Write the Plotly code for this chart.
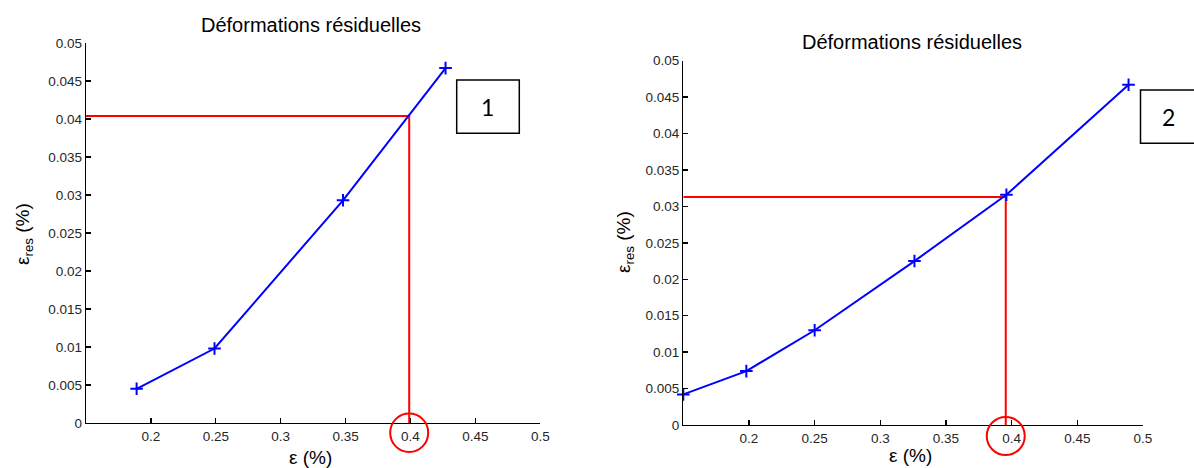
import plotly.graph_objects as go

W, H = 1194, 468

# ---- data ----
title_text = "Déformations résiduelles"
x_label = "ε (%)"
y_label = "ε<sub>res</sub> (%)"

x_ticks = [0.2, 0.25, 0.3, 0.35, 0.4, 0.45, 0.5]
x_ticktext = ["0.2", "0.25", "0.3", "0.35", "0.4", "0.45", "0.5"]
y_ticks = [0, 0.005, 0.01, 0.015, 0.02, 0.025, 0.03, 0.035, 0.04, 0.045, 0.05]
y_ticktext = ["0", "0.005", "0.01", "0.015", "0.02", "0.025", "0.03", "0.035", "0.04", "0.045", "0.05"]

# chart 1
eps1 = [0.189, 0.249, 0.348, 0.427]
res1 = [0.0045, 0.0098, 0.0293, 0.0467]
ref1_x = 0.399
ref1_y = 0.0404
label1 = "1"

# chart 2
eps2 = [0.150, 0.198, 0.250, 0.326, 0.396, 0.489]
res2 = [0.0042, 0.0074, 0.0130, 0.0225, 0.0316, 0.0467]
ref2_x = 0.3955
ref2_y = 0.0313
label2 = "2"

x_range = [0.15, 0.5]
y_range = [0, 0.05]

# ---- layout helpers (pixel -> paper) ----
def px(x):
    return x / W

def py(y):
    return 1 - y / H

fig = go.Figure()

blue = "#0000FF"
red = "#FF0000"

for (eps, res, rx, ry, xa, ya) in [
    (eps1, res1, ref1_x, ref1_y, "x", "y"),
    (eps2, res2, ref2_x, ref2_y, "x2", "y2"),
]:
    # red reference lines
    fig.add_trace(go.Scatter(x=[x_range[0], rx, rx], y=[ry, ry, y_range[0]],
                             mode="lines", line=dict(color=red, width=2),
                             xaxis=xa, yaxis=ya, showlegend=False, cliponaxis=False))
    fig.add_trace(go.Scatter(x=eps, y=res, mode="lines+markers",
                             line=dict(color=blue, width=2),
                             marker=dict(symbol="cross-thin", size=9,
                                         line=dict(color=blue, width=2), color=blue),
                             xaxis=xa, yaxis=ya, showlegend=False, cliponaxis=False))

tick_font = dict(family="Arial, Liberation Sans, sans-serif", size=13.5, color="#262626")

def xaxis_cfg(domain, anchor):
    return dict(domain=domain, anchor=anchor, range=x_range, tickvals=x_ticks, ticktext=x_ticktext,
                showline=True, linecolor="black", linewidth=1.3, ticks="inside", ticklen=5,
                tickcolor="black", tickwidth=1.3, showgrid=False, zeroline=False,
                tickfont=tick_font, fixedrange=True, automargin=False)

def yaxis_cfg(domain, anchor):
    return dict(domain=domain, anchor=anchor, range=y_range, tickvals=y_ticks, ticktext=y_ticktext,
                showline=True, linecolor="black", linewidth=1.3, ticks="inside", ticklen=5,
                tickcolor="black", tickwidth=1.3, showgrid=False, zeroline=False,
                tickfont=tick_font, fixedrange=True, automargin=False)

fig.update_layout(
    width=W, height=H, autosize=False,
    margin=dict(l=0, r=0, t=0, b=0, autoexpand=False),
    paper_bgcolor="white", plot_bgcolor="white",
    xaxis=xaxis_cfg([px(86), px(540.3)], "y"),
    yaxis=yaxis_cfg([py(423), py(43)], "x"),
    xaxis2=xaxis_cfg([px(683.3), px(1143)], "y2"),
    yaxis2=yaxis_cfg([py(425), py(60.7)], "x2"),
)

title_font = dict(family="Arial, Liberation Sans, sans-serif", size=20, color="black")
lab_font = dict(family="Arial, Liberation Sans, sans-serif", size=19, color="black")

ann = []
# titles
ann.append(dict(text=title_text, x=px(311), y=py(25), xref="paper", yref="paper",
                xanchor="center", yanchor="middle", showarrow=False, font=title_font))
ann.append(dict(text=title_text, x=px(911.5), y=py(42), xref="paper", yref="paper",
                xanchor="center", yanchor="middle", showarrow=False, font=title_font))
# x labels
ann.append(dict(text=x_label, x=px(310), y=py(457), xref="paper", yref="paper",
                xanchor="center", yanchor="middle", showarrow=False, font=lab_font))
ann.append(dict(text=x_label, x=px(910), y=py(455), xref="paper", yref="paper",
                xanchor="center", yanchor="middle", showarrow=False, font=lab_font))
# y labels
ann.append(dict(text=y_label, x=px(24), y=py(234), xref="paper", yref="paper", textangle=-90,
                xanchor="center", yanchor="middle", showarrow=False, font=lab_font))
ann.append(dict(text=y_label, x=px(625), y=py(242), xref="paper", yref="paper", textangle=-90,
                xanchor="center", yanchor="middle", showarrow=False, font=lab_font))
# box labels
box_font = dict(family="Lato, Open Sans, sans-serif", size=23, color="black")
ann.append(dict(text=label1, x=px(488), y=py(107), xref="paper", yref="paper",
                xanchor="center", yanchor="middle", showarrow=False, font=box_font))
ann.append(dict(text=label2, x=px(1168.5), y=py(117), xref="paper", yref="paper",
                xanchor="center", yanchor="middle", showarrow=False, font=box_font))
fig.update_layout(annotations=ann)

def frac(v, rng):
    return (v - rng[0]) / (rng[1] - rng[0])

shapes = [
    dict(type="rect", xref="paper", yref="paper", x0=px(456.7), x1=px(519.3), y0=py(133.3), y1=py(80),
         line=dict(color="black", width=1.5), fillcolor="rgba(0,0,0,0)"),
    dict(type="rect", xref="paper", yref="paper", x0=px(1140.5), x1=px(1200), y0=py(143.3), y1=py(90),
         line=dict(color="black", width=1.5), fillcolor="rgba(0,0,0,0)"),
    dict(type="circle", xref="x domain", yref="y domain", xsizemode="pixel", ysizemode="pixel",
         xanchor=frac(ref1_x, x_range), yanchor=0, x0=-19, x1=19, y0=-29, y1=9.5,
         line=dict(color=red, width=2)),
    dict(type="circle", xref="x2 domain", yref="y2 domain", xsizemode="pixel", ysizemode="pixel",
         xanchor=frac(ref2_x, x_range), yanchor=0, x0=-19, x1=19, y0=-30, y1=8,
         line=dict(color=red, width=2)),
]
fig.update_layout(shapes=shapes)

fig.write_html("out.html",
               config={"displayModeBar": False, "staticPlot": True},
               post_script="document.body.style.margin='0';document.body.style.overflow='hidden';")
